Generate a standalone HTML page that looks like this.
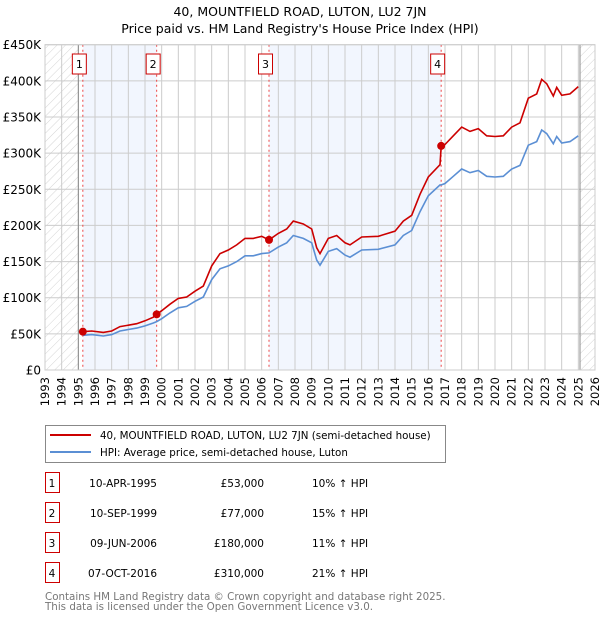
<!DOCTYPE html>
<html><head><meta charset="utf-8"><style>
body{margin:0;background:#fff;font-family:"DejaVu Sans","Liberation Sans",sans-serif;}
svg text{font-family:"DejaVu Sans","Liberation Sans",sans-serif;}
</style></head><body>
<svg id="chart" width="600" height="620" viewBox="0 0 600 620" xmlns="http://www.w3.org/2000/svg">
<defs><pattern id="hatch" width="6" height="6" patternUnits="userSpaceOnUse" patternTransform="rotate(45)"><line x1="0" y1="0" x2="0" y2="6" stroke="#d4d4d4" stroke-width="1"/></pattern></defs>
<text x="300" y="16" text-anchor="middle" font-size="12.5" fill="#000">40, MOUNTFIELD ROAD, LUTON, LU2 7JN</text>
<text x="300" y="33" text-anchor="middle" font-size="12.5" fill="#000">Price paid vs. HM Land Registry's House Price Index (HPI)</text>
<g id="plot"></g>
<g id="legend">
<rect x="45.5" y="425.5" width="400" height="37" fill="#fff" stroke="#888"/>
<line x1="50" y1="435" x2="91" y2="435" stroke="#cc0000" stroke-width="2"/>
<text x="100" y="439" font-size="10.3">40, MOUNTFIELD ROAD, LUTON, LU2 7JN (semi-detached house)</text>
<line x1="50" y1="452" x2="91" y2="452" stroke="#5b8fd4" stroke-width="2"/>
<text x="100" y="456" font-size="10.3">HPI: Average price, semi-detached house, Luton</text>
</g>
<g id="table" font-size="10.5"></g>
<text x="45" y="600" font-size="10.3" fill="#777">Contains HM Land Registry data © Crown copyright and database right 2025.</text>
<text x="45" y="610" font-size="10.3" fill="#777">This data is licensed under the Open Government Licence v3.0.</text>
</svg>
<script>
const hpiYears=[1995.27,1995.8,1996.5,1997.0,1997.5,1998.0,1998.5,1999.0,1999.5,1999.7,2000.0,2000.5,2001.0,2001.5,2002.0,2002.5,2003.0,2003.5,2004.0,2004.5,2005.0,2005.5,2006.0,2006.44,2007.0,2007.5,2007.9,2008.5,2009.0,2009.3,2009.5,2010.0,2010.5,2011.0,2011.3,2012.0,2013.0,2014.0,2014.5,2015.0,2015.5,2016.0,2016.7,2016.77,2017.0,2017.5,2018.0,2018.5,2019.0,2019.5,2020.0,2020.5,2021.0,2021.5,2022.0,2022.5,2022.8,2023.1,2023.5,2023.7,2024.0,2024.5,2025.0];
const hpiValues=[48,49,47,49,54,56,58,61,65,67,71,79,86,88,95,101,125,140,144,150,158,158,161,162,170,176,186,182,176,152,145,164,168,159,156,166,167,173,186,193,219,241,256,256,258,268,278,273,276,268,267,268,278,283,311,316,332,327,313,323,314,316,324];
const priceValues=[53,54,52,54,60,62,64,68,73,77,82,91,99,101,109,116,144,161,166,173,182,182,185,180,189,195,206,202,195,169,161,182,186,176,173,184,185,192,206,214,243,267,284,310,312,324,336,330,334,324,323,324,336,342,376,382,402,396,379,391,380,382,392];
const saleLabels=["1","2","3","4"];
const saleYears=[1995.27,1999.7,2006.44,2016.77];
const salePrices=[53,77,180,310];
const saleDates=["10-APR-1995","10-SEP-1999","09-JUN-2006","07-OCT-2016"];
const salePriceText=["£53,000","£77,000","£180,000","£310,000"];
const saleHpiText=["10% ↑ HPI","15% ↑ HPI","11% ↑ HPI","21% ↑ HPI"];
const yTicks=[0,50,100,150,200,250,300,350,400,450];
const yTickLabels=["£0","£50K","£100K","£150K","£200K","£250K","£300K","£350K","£400K","£450K"];
const xTicks=[1993,1994,1995,1996,1997,1998,1999,2000,2001,2002,2003,2004,2005,2006,2007,2008,2009,2010,2011,2012,2013,2014,2015,2016,2017,2018,2019,2020,2021,2022,2023,2024,2025,2026];

const X0=45,X1=595,Y0=370,Y1=44.7;
const xs=t=>X0+(t-1993)/(2026-1993)*(X1-X0);
const ys=v=>Y0-v/450*(Y0-Y1);
const NS="http://www.w3.org/2000/svg";
const plot=document.getElementById('plot');
function mk(tag,attrs,parent){const e=document.createElementNS(NS,tag);for(const k in attrs)e.setAttribute(k,attrs[k]);(parent||plot).appendChild(e);return e;}

const shadeA=mk('rect',{x:xs(saleYears[0]),y:Y1,width:xs(saleYears[1])-xs(saleYears[0]),height:Y0-Y1,fill:'#f2f6fe'});


const shadeB=mk('rect',{x:xs(saleYears[2]),y:Y1,width:xs(saleYears[3])-xs(saleYears[2]),height:Y0-Y1,fill:'#f2f6fe'});


const hl=mk('rect',{x:X0,y:Y1,width:xs(1995)-X0,height:Y0-Y1,fill:'url(#hatch)'});


const hr=mk('rect',{x:xs(2025.1),y:Y1,width:X1-xs(2025.1),height:Y0-Y1,fill:'url(#hatch)'});



xTicks.forEach((t,i)=>{
 const g=mk('line',{x1:xs(t),x2:xs(t),y1:Y1,y2:Y0,stroke:'#ccc','stroke-width':1});
 
 
 const tx=mk('text',{x:0,y:0,'font-size':11.5,'text-anchor':'end',transform:`translate(${xs(t)+4},${Y0+7}) rotate(-90)`});
 tx.textContent=t;
 
 
});
yTicks.forEach((v,i)=>{
 const g=mk('line',{x1:X0,x2:X1,y1:ys(v),y2:ys(v),stroke:'#ccc','stroke-width':1});
 
 
 const tx=mk('text',{x:X0-4,y:ys(v)+4.5,'font-size':12,'text-anchor':'end'});
 tx.textContent=yTickLabels[i];
 
 
});
const vl=mk('line',{x1:xs(1995),x2:xs(1995),y1:Y1,y2:Y0,stroke:'#888','stroke-width':1});


const vr=mk('line',{x1:xs(2025.1),x2:xs(2025.1),y1:Y1,y2:Y0,stroke:'#888','stroke-width':1});



saleYears.forEach((t,i)=>{
 const l=mk('line',{x1:xs(t),x2:xs(t),y1:Y1,y2:Y0,stroke:'#ee4444','stroke-width':1,'stroke-dasharray':'2,3'});
 
 
 const b=mk('rect',{x:xs(t)-3.5-7,y:54,width:14,height:20,fill:'#fff',stroke:'#cc0000','stroke-width':1});
 
 
 const tx=mk('text',{x:xs(t)-3.5,y:68,'font-size':11,'text-anchor':'middle'});
 tx.textContent=saleLabels[i];
 
 
});

const pts=(vals)=>hpiYears.map((t,i)=>xs(t).toFixed(1)+','+ys(vals[i]).toFixed(1)).join(' ');
const hpiLine=mk('polyline',{points:pts(hpiValues),fill:'none',stroke:'#5b8fd4','stroke-width':1.6});


const priceLine=mk('polyline',{points:pts(priceValues),fill:'none',stroke:'#cc0000','stroke-width':1.6});


saleYears.forEach((t,i)=>{
 const c=mk('circle',{cx:xs(t),cy:ys(salePrices[i]),r:4,fill:'#cc0000'});
 
 
});
const frame=mk('rect',{x:X0,y:Y1,width:X1-X0,height:Y0-Y1,fill:'none',stroke:'#ccc'});



const tbl=document.getElementById('table');
saleLabels.forEach((s,i)=>{
 const y=483+i*30;
 const b=mk('rect',{x:45.5,y:y-10.5,width:14,height:20,fill:'#fff',stroke:'#cc0000'},tbl);
 
 
 const cells=[[52,s,'middle'],[157,saleDates[i],'end'],[264,salePriceText[i],'end'],[312,saleHpiText[i],'start']];
 cells.forEach(c=>{
  const tx=mk('text',{x:c[0],y:y+4,'text-anchor':c[2]},tbl);
  tx.textContent=c[1];
  
  
 });
});
</script>
</body></html>
